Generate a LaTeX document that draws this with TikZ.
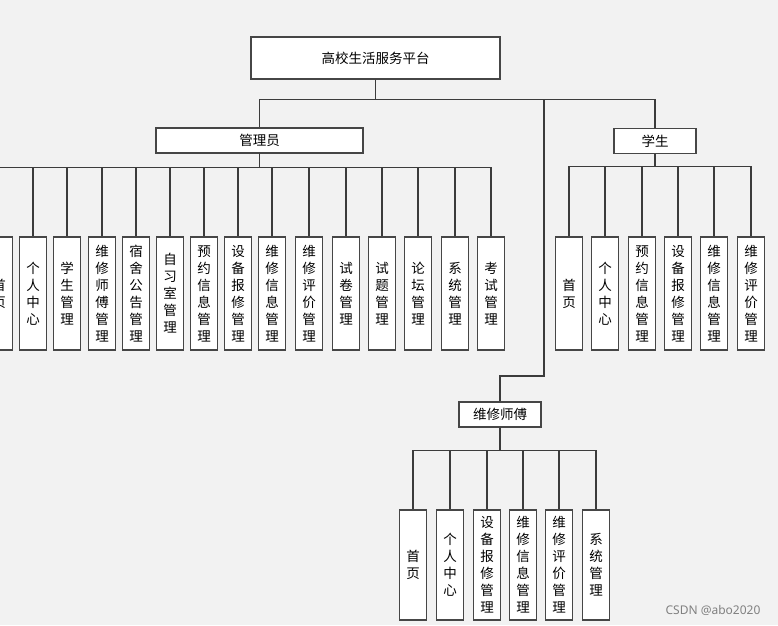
\documentclass[tikz,border=0pt]{standalone}
\usepackage{fontspec}
\newfontfamily\cjk{Noto Sans CJK SC}
\newfontfamily\wmfont{Noto Sans}
\usetikzlibrary{positioning}
\definecolor{bggray}{RGB}{242,242,242}
\definecolor{boxline}{RGB}{70,70,70}
\definecolor{linkgray}{RGB}{60,60,60}

\begin{document}
\begin{tikzpicture}[x=1pt, y=-1pt,
  hbox/.style={draw=boxline, line width=1.3pt, fill=white, minimum height=25pt, inner sep=0pt, font=\cjk\fontsize{13.5}{16}\selectfont},
  vbox/.style={draw=boxline, line width=1.3pt, fill=white, minimum width=27pt, minimum height=113pt, inner sep=0pt, align=center, font=\cjk\fontsize{13.5}{17}\selectfont},
  link/.style={draw=linkgray, line width=1.2pt}
]
  \fill[bggray] (0,0) rectangle (778,625);
  \useasboundingbox (0,0) rectangle (778,625);
  \clip (0,0) rectangle (778,625);

  % Root and roles
  \node[hbox, minimum width=249pt, minimum height=42pt] (root) at (375.5,58) {高校生活服务平台};
  \node[hbox, minimum width=207pt] (admin) at (259.5,140.5) {管理员};
  \node[hbox, minimum width=82pt] (student) at (655,141) {学生};
  \node[hbox, minimum width=82pt] (repair) at (500,414.5) {维修师傅};
  \coordinate (rbend) at (544,376);

  \draw[link] (root.south) -- ++(0,20) -| (admin.north);
  \draw[link] (root.south) -- ++(0,20) -| (student.north);
  \draw[link] (root.south) -- ++(0,20) -| (rbend) -| (repair.north);

  % Admin modules
  \foreach \x/\t [count=\i] in {-1/首\\页, 33/个\\人\\中\\心, 67/学\\生\\管\\理, 102/维\\修\\师\\傅\\管\\理,
      136/宿\\舍\\公\\告\\管\\理, 170/自\\习\\室\\管\\理, 204/预\\约\\信\\息\\管\\理, 238/设\\备\\报\\修\\管\\理,
      272/维\\修\\信\\息\\管\\理, 309/维\\修\\评\\价\\管\\理, 346/试\\卷\\管\\理, 382/试\\题\\管\\理,
      418/论\\坛\\管\\理, 455/系\\统\\管\\理, 491/考\\试\\管\\理} {
    \node[vbox] (a\i) at (\x,293.5) {\t};
    \draw[link] (admin.south) -- ++(0,14) -| (a\i.north);
  }

  % Student modules
  \foreach \x/\t [count=\i] in {569/首\\页, 605/个\\人\\中\\心, 642/预\\约\\信\\息\\管\\理,
      678/设\\备\\报\\修\\管\\理, 714/维\\修\\信\\息\\管\\理, 751/维\\修\\评\\价\\管\\理} {
    \node[vbox] (s\i) at (\x,293.5) {\t};
    \draw[link] (student.south) -- ++(0,12.5) -| (s\i.north);
  }

  % Repair worker modules
  \foreach \x/\t [count=\i] in {413/首\\页, 450/个\\人\\中\\心, 487/设\\备\\报\\修\\管\\理,
      523/维\\修\\信\\息\\管\\理, 559/维\\修\\评\\价\\管\\理, 596/系\\统\\管\\理} {
    \node[vbox, minimum height=110pt] (r\i) at (\x,565) {\t};
    \draw[link] (repair.south) -- ++(0,23) -| (r\i.north);
  }

  \node[font=\wmfont\fontsize{12}{14}\selectfont, text=gray] (mark) at (713,610) {CSDN @abo2020};
\end{tikzpicture}
\end{document}
